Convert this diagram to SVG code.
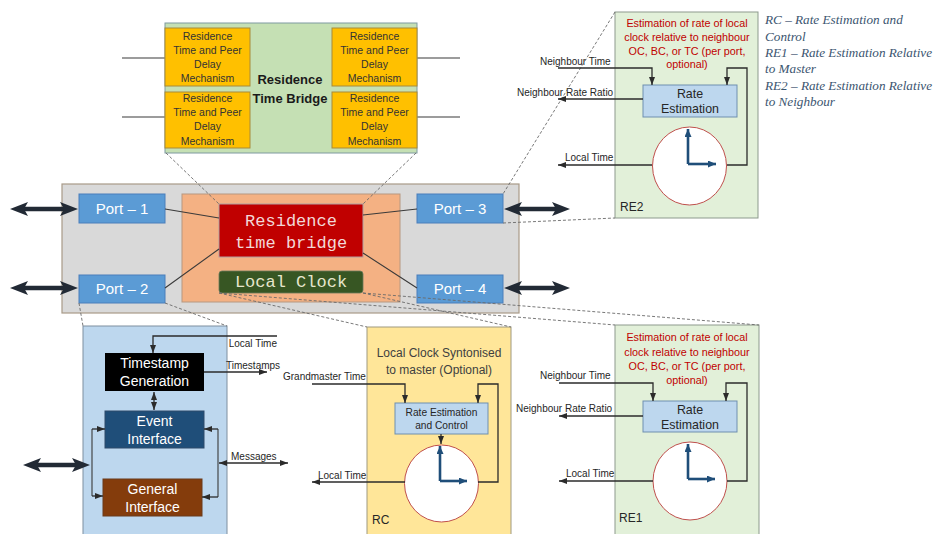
<svg xmlns="http://www.w3.org/2000/svg" width="941" height="534" viewBox="0 0 941 534">
<defs>
  <marker id="ah" markerUnits="userSpaceOnUse" markerWidth="8" markerHeight="6" refX="8" refY="3" orient="auto-start-reverse">
    <path d="M0,0 L8,3 L0,6 z" fill="#2b2b2b"/>
  </marker>
  <marker id="hand" markerUnits="userSpaceOnUse" markerWidth="8" markerHeight="7" refX="8" refY="3.5" orient="auto">
    <path d="M0,0 L8,3.5 L0,7 z" fill="#1f4e79"/>
  </marker>
  <marker id="big" markerUnits="userSpaceOnUse" markerWidth="18" markerHeight="14" refX="5" refY="7" orient="auto-start-reverse">
    <path d="M0,0 L18,7 L0,14 L4,7 z" fill="#222a35"/>
  </marker>
</defs>
<style>
  text{font-family:"Liberation Sans",Arial,sans-serif}
  .mono{font-family:"Liberation Mono","Courier New",monospace}
  .leg{font-family:"Liberation Serif","Times New Roman",serif;font-style:italic;font-size:13.2px;fill:#3b5570}
  .ln{stroke:#3a3a3a;stroke-width:1.1;fill:none}
  .arr{stroke:#2b2b2b;stroke-width:1.3;fill:none;marker-end:url(#ah)}
  .dash{stroke:#6a6a6a;stroke-width:0.9;stroke-dasharray:3 2;fill:none}
  .bigarr{stroke:#222a35;stroke-width:4.5;fill:none;marker-start:url(#big);marker-end:url(#big)}
  .yb{fill:#ffc000;stroke:#a88a3a;stroke-width:1}
  .yt{font-size:10.5px;fill:#333;text-anchor:middle}
  .port{fill:#5b9bd5;stroke:#4a7ebb;stroke-width:1}
  .pt{font-size:15px;fill:#fff;text-anchor:middle}
  .panelG{fill:#e2f0d9;stroke:#8d9a8d;stroke-width:1}
  .rbox{fill:#bdd7ee;stroke:#6f8fb0;stroke-width:1}
  .clock{fill:#fff;stroke:#c0504d;stroke-width:1}
  .hands{stroke:#1f4e79;stroke-width:2.6;fill:none;marker-end:url(#hand)}
  .lbl{font-size:10px;fill:#262626}
  .red{font-size:10.8px;fill:#c00000;text-anchor:middle}
  .bt{font-size:14px;fill:#fff;text-anchor:middle}
</style>
<rect width="941" height="534" fill="#fff"/>

<!-- residence time bridge detail -->
<g id="rtb-detail">
  <line class="ln" x1="122" y1="58" x2="165" y2="58" stroke="#555"/>
  <line class="ln" x1="122" y1="117" x2="165" y2="117"/>
  <line class="ln" x1="417" y1="58" x2="460" y2="58"/>
  <line class="ln" x1="417" y1="117" x2="460" y2="117"/>
  <rect x="165" y="23" width="252" height="130" fill="#c5e0b4" stroke="#7f9aa0" stroke-width="1"/>
  <rect class="yb" x="165" y="28" width="85" height="58"/>
  <rect class="yb" x="165" y="92" width="85" height="56"/>
  <rect class="yb" x="332" y="28" width="85" height="58"/>
  <rect class="yb" x="332" y="92" width="85" height="56"/>
  <text class="yt" x="207.5" y="40">Residence</text>
  <text class="yt" x="207.5" y="54">Time and Peer</text>
  <text class="yt" x="207.5" y="68">Delay</text>
  <text class="yt" x="207.5" y="82">Mechanism</text>
  <text class="yt" x="207.5" y="102">Residence</text>
  <text class="yt" x="207.5" y="116">Time and Peer</text>
  <text class="yt" x="207.5" y="130">Delay</text>
  <text class="yt" x="207.5" y="145">Mechanism</text>
  <text class="yt" x="374.5" y="40">Residence</text>
  <text class="yt" x="374.5" y="54">Time and Peer</text>
  <text class="yt" x="374.5" y="68">Delay</text>
  <text class="yt" x="374.5" y="82">Mechanism</text>
  <text class="yt" x="374.5" y="102">Residence</text>
  <text class="yt" x="374.5" y="116">Time and Peer</text>
  <text class="yt" x="374.5" y="130">Delay</text>
  <text class="yt" x="374.5" y="145">Mechanism</text>
  <text x="290" y="84" font-size="13" font-weight="bold" fill="#1a1a1a" text-anchor="middle">Residence</text>
  <text x="290" y="103" font-size="13" font-weight="bold" fill="#1a1a1a" text-anchor="middle">Time Bridge</text>
</g>

<!-- legend -->
<g id="legend">
  <text class="leg" x="765" y="24">RC – Rate Estimation and</text>
  <text class="leg" x="765" y="40.5">Control</text>
  <text class="leg" x="765" y="57">RE1 – Rate Estimation Relative</text>
  <text class="leg" x="765" y="73">to Master</text>
  <text class="leg" x="765" y="89.5">RE2 – Rate Estimation Relative</text>
  <text class="leg" x="765" y="106">to Neighbour</text>
</g>

<!-- switch -->
<g id="switch">
  <rect x="62" y="184" width="457" height="129" fill="#d9d9d9" stroke="#a89a88" stroke-width="1.2"/>
  <rect x="182" y="194" width="218" height="108" fill="#f4b183" stroke="#b89880" stroke-width="1"/>
</g>
<g id="rtb">
  <rect x="219" y="204" width="144" height="53" fill="#c00000" stroke="#b0a0a0" stroke-width="1"/>
  <text class="mono" x="291" y="226" font-size="17" fill="#f2d8d8" text-anchor="middle">Residence</text>
  <text class="mono" x="291" y="248" font-size="17" fill="#f2d8d8" text-anchor="middle">time bridge</text>
</g>
<g id="local-clock">
  <rect x="219" y="271" width="144" height="22" rx="3" fill="#375623" stroke="#6a7a5a" stroke-width="0.8"/>
  <text class="mono" x="291" y="287" font-size="17" fill="#e6e6cc" text-anchor="middle">Local Clock</text>
</g>
<g id="port1"><rect class="port" x="79" y="194" width="86" height="29"/><text class="pt" x="122" y="214">Port – 1</text></g>
<g id="port2"><rect class="port" x="79" y="275" width="86" height="28"/><text class="pt" x="122" y="294">Port – 2</text></g>
<g id="port3"><rect class="port" x="417" y="194" width="86" height="29"/><text class="pt" x="460" y="214">Port – 3</text></g>
<g id="port4"><rect class="port" x="417" y="275" width="86" height="28"/><text class="pt" x="460" y="294">Port – 4</text></g>

<!-- time-aware end station interface -->
<g id="port-detail">
  <rect x="83" y="326" width="144" height="212" fill="#bdd7ee" stroke="#7f8fa0" stroke-width="1"/>
  <g id="ts-gen">
    <rect x="105" y="353" width="99" height="38" fill="#000"/>
    <text class="bt" x="154.5" y="368">Timestamp</text>
    <text class="bt" x="154.5" y="386">Generation</text>
  </g>
  <g id="event-if">
    <rect x="105" y="411" width="99" height="37" fill="#1f4e79" stroke="#2e4a6a"/>
    <text class="bt" x="154.5" y="426">Event</text>
    <text class="bt" x="154.5" y="444">Interface</text>
  </g>
  <g id="general-if">
    <rect x="103" y="479" width="99" height="37" fill="#843c0c" stroke="#6a3a1a"/>
    <text class="bt" x="152.5" y="494">General</text>
    <text class="bt" x="152.5" y="512">Interface</text>
  </g>
  <text class="lbl" x="277" y="347" text-anchor="end">Local Time</text>
  <text class="lbl" x="226" y="369">Timestamps</text>
  <text class="lbl" x="231" y="460">Messages</text>
</g>

<!-- rate estimation and control -->
<g id="rc">
  <rect x="367" y="327" width="144" height="211" fill="#ffe699" stroke="#a09a80" stroke-width="1"/>
  <text x="439" y="357" font-size="12" fill="#404040" text-anchor="middle">Local Clock Syntonised</text>
  <text x="439" y="374" font-size="12" fill="#404040" text-anchor="middle">to master (Optional)</text>
  <rect class="rbox" x="395" y="403" width="93" height="31"/>
  <text x="441.5" y="416" font-size="10.2" fill="#262626" text-anchor="middle">Rate Estimation</text>
  <text x="441.5" y="429" font-size="10.2" fill="#262626" text-anchor="middle">and Control</text>
  <ellipse class="clock" cx="441.5" cy="483.5" rx="37" ry="38.5"/>
  <path class="hands" d="M440,481 V446"/>
  <path class="hands" d="M440,481 H467"/>
  <text x="372" y="524" font-size="12" fill="#262626">RC</text>
  <text class="lbl" x="283" y="380">Grandmaster Time</text>
  <text class="lbl" x="318" y="479">Local Time</text>
</g>

<!-- rate estimation relative to master -->
<g id="re1">
  <rect class="panelG" x="615" y="325" width="144" height="213"/>
  <text class="red" x="687" y="341">Estimation of rate of local</text>
  <text class="red" x="687" y="356">clock relative to neighbour</text>
  <text class="red" x="687" y="370">OC, BC, or TC (per port,</text>
  <text class="red" x="687" y="384">optional)</text>
  <rect class="rbox" x="643" y="401" width="94" height="31"/>
  <text x="690" y="413.5" font-size="12.4" fill="#262626" text-anchor="middle">Rate</text>
  <text x="690" y="428.5" font-size="12.4" fill="#262626" text-anchor="middle">Estimation</text>
  <ellipse class="clock" cx="690" cy="481" rx="37" ry="39"/>
  <path class="hands" d="M688,479 V444"/>
  <path class="hands" d="M688,479 H715"/>
  <text x="619" y="522" font-size="12" fill="#262626">RE1</text>
  <text class="lbl" x="540" y="379">Neighbour Time</text>
  <text class="lbl" x="516" y="412">Neighbour Rate Ratio</text>
  <text class="lbl" x="566" y="477">Local Time</text>
</g>

<!-- rate estimation relative to neighbour -->
<g id="re2">
  <rect class="panelG" x="615" y="12" width="143" height="206"/>
  <text class="red" x="687" y="27">Estimation of rate of local</text>
  <text class="red" x="687" y="41">clock relative to neighbour</text>
  <text class="red" x="687" y="54.5">OC, BC, or TC (per port,</text>
  <text class="red" x="687" y="68">optional)</text>
  <rect class="rbox" x="643" y="85" width="94" height="32"/>
  <text x="690" y="97.5" font-size="12.4" fill="#262626" text-anchor="middle">Rate</text>
  <text x="690" y="113" font-size="12.4" fill="#262626" text-anchor="middle">Estimation</text>
  <ellipse class="clock" cx="689.5" cy="166" rx="37" ry="39"/>
  <path class="hands" d="M688,164 V129"/>
  <path class="hands" d="M688,164 H716"/>
  <text x="620" y="211" font-size="12" fill="#262626">RE2</text>
  <text class="lbl" x="540" y="65">Neighbour Time</text>
  <text class="lbl" x="517" y="96">Neighbour Rate Ratio</text>
  <text class="lbl" x="565" y="161">Local Time</text>
</g>

<!-- connectors -->
<g id="connectors">
  <!-- callout outlines -->
  <path class="dash" d="M166,153 L219,204 M416,153 L363,204"/>
  <path class="dash" d="M615,12 L503,194 M503,223 L615,218"/>
  <path class="dash" d="M79,303 L83,326 M165,303 L227,326"/>
  <path class="dash" d="M219,293 L367,327 M363,293 L511,327"/>
  <path class="dash" d="M219,293 L615,325 M363,293 L759,325"/>
  <!-- bridge links -->
  <path class="ln" d="M165,209 L219,218 M165,288 L219,249 M363,215 L417,209 M363,253 L417,288"/>
  <!-- network links -->
  <path class="bigarr" d="M23,209 H65"/>
  <path class="bigarr" d="M23,288 H65"/>
  <path class="bigarr" d="M517,209 H557"/>
  <path class="bigarr" d="M517,288 H557"/>
  <path class="bigarr" d="M36,465 H77"/>
  <!-- end station internals -->
  <path class="arr" d="M277,336 H153 V353"/>
  <path class="arr" d="M204,372 H267"/>
  <path class="arr" d="M154,392 V410" style="marker-start:url(#ah)"/>
  <path class="ln" d="M92,429 V496"/>
  <path class="arr" d="M92,429 H105"/>
  <path class="arr" d="M92,496 H103"/>
  <path class="ln" d="M218,429 V497"/>
  <path class="arr" d="M218,429 H204"/>
  <path class="arr" d="M218,497 H202"/>
  <path class="arr" d="M219,463 H288" style="marker-start:url(#ah)"/>
  <!-- RC -->
  <path class="arr" d="M312,384 H405 V403"/>
  <path class="arr" d="M441,434 V444"/>
  <path class="arr" d="M478,482 H498 V384 H478 V403"/>
  <path class="arr" d="M405,482 H312"/>
  <!-- RE1 -->
  <path class="arr" d="M559,383 H653 V401"/>
  <path class="arr" d="M643,416 H559"/>
  <path class="arr" d="M727,481 H747 V383 H726 V401"/>
  <path class="arr" d="M653,481 H559"/>
  <!-- RE2 -->
  <path class="arr" d="M558,68 H652 V85"/>
  <path class="arr" d="M643,99 H558"/>
  <path class="arr" d="M727,165 H747 V68 H727 V85"/>
  <path class="arr" d="M652,165 H558"/>
</g>
</svg>
